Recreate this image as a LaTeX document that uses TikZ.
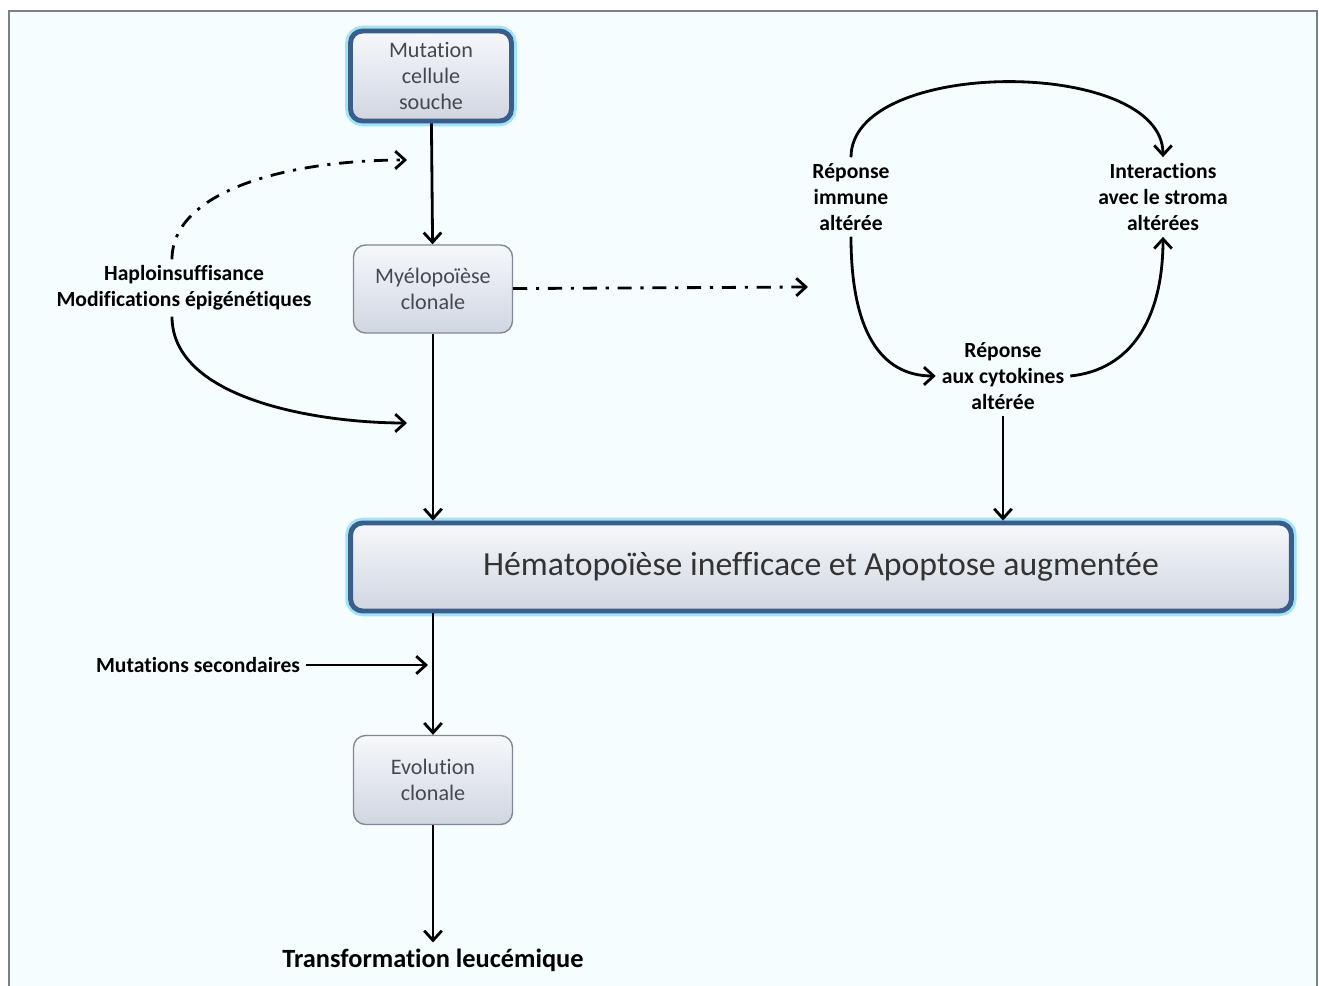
\documentclass[tikz,border=0pt]{standalone}
\usepackage{fontspec}
\setmainfont[Ligatures=NoCommon]{Carlito}
\usetikzlibrary{arrows.meta,positioning}
\definecolor{framebg}{RGB}{245, 253, 254}
\definecolor{frameline}{RGB}{120, 128, 140}
\definecolor{boxtop}{RGB}{246, 248, 251}
\definecolor{boxbot}{RGB}{208, 214, 225}
\definecolor{boxline}{RGB}{130, 136, 148}
\definecolor{rimblue}{RGB}{58, 94, 140}
\definecolor{glow}{RGB}{160, 228, 246}
\definecolor{boxtext}{RGB}{70, 72, 78}
\tikzset{
	flow/.style={
		-{Straight Barb[length=5.5pt, width=10pt]}, line width=1.6pt
	},
	%
	dashflow/.style={
		flow, dash pattern=on 8pt off 5pt on 1.8pt off 5pt
	},
	%
	smallbox/.style={
		rectangle, rounded corners=2.4mm, draw=boxline, thick,
		top color=boxtop, bottom color=boxbot,
		minimum width=3.18cm, minimum height=1.76cm, align=center,
		text=boxtext, font=\fontsize{12.6}{14.8}\selectfont
	},
	%
	keybox/.style={
		smallbox, draw=rimblue, line width=2.8pt,
		preaction={draw=glow, line width=6pt}
	},
	%
	sidetext/.style={
		align=center, text=black, font=\fontsize{12.3}{14.8}\selectfont\bfseries
	}
}

\begin{document}
\begin{tikzpicture}[x=0.02cm, y=-0.02cm]
\useasboundingbox (0,0) rectangle (1319,986);
\draw[frameline, line width=1.2pt, fill=framebg] (9,11) rectangle (1317,990);

% main column
\node(mut)[keybox, minimum width=3.22cm, minimum height=1.8cm] at (431,76) {Mutation\\cellule\\souche};
\node(myelo)[smallbox] at (433,289) {Myélopoïèse\\clonale};
\node(hema)[keybox, minimum width=18.82cm, text=black!80, font=\fontsize{19.2}{22}\selectfont] at (821,567) {Hématopoïèse inefficace et Apoptose augmentée};
\node(evo)[smallbox, minimum height=1.78cm] at (433,780) {Evolution\\clonale};
\node(leuk)[sidetext, font=\fontsize{15}{17}\selectfont\bfseries] at (433,960) {Transformation leucémique};

% side labels
\node(haplo)[sidetext] at (184,288) {Haploinsuffisance\\Modifications épigénétiques};
\node(msec)[sidetext] at (198,665) {Mutations secondaires};
\node(immune)[sidetext] at (851,197) {Réponse\\immune\\altérée};
\node(stroma)[sidetext] at (1163,197) {Interactions\\avec le stroma\\altérées};
\node(cyto)[sidetext] at (1003,376) {Réponse\\aux cytokines\\altérée};

\coordinate(dashend) at (808,287);
\coordinate(msecend) at (428,665);

\draw[flow] (mut) -- (myelo);
\draw[flow] (myelo.south) -- (myelo.south |- hema.north);
\draw[flow] (hema.south -| evo.north) -- (evo);
\draw[flow] (evo) -- (leuk);
\draw[flow] (msec) -- (msecend);
\draw[flow] (cyto.south) -- (cyto.south |- hema.north);
\draw[dashflow] (myelo) -- (dashend);

% haploinsuffisance curves
\draw[dashflow] (haplo.north -| 172,0) .. controls (172,190) and (290,160) .. (407,160);
\draw[flow] (haplo.south -| 172,0) .. controls (172,400) and (320,423) .. (407,423);

% loop on the right
\draw[flow] (immune.north) .. controls (851,57) and (1163,57) .. (stroma.north);
\draw[flow] (immune.south) .. controls (851,330) and (880,376) .. (cyto.west);
\draw[flow] (cyto.east) .. controls (1130,370) and (1163,320) .. (stroma.south);
\end{tikzpicture}
\end{document}
